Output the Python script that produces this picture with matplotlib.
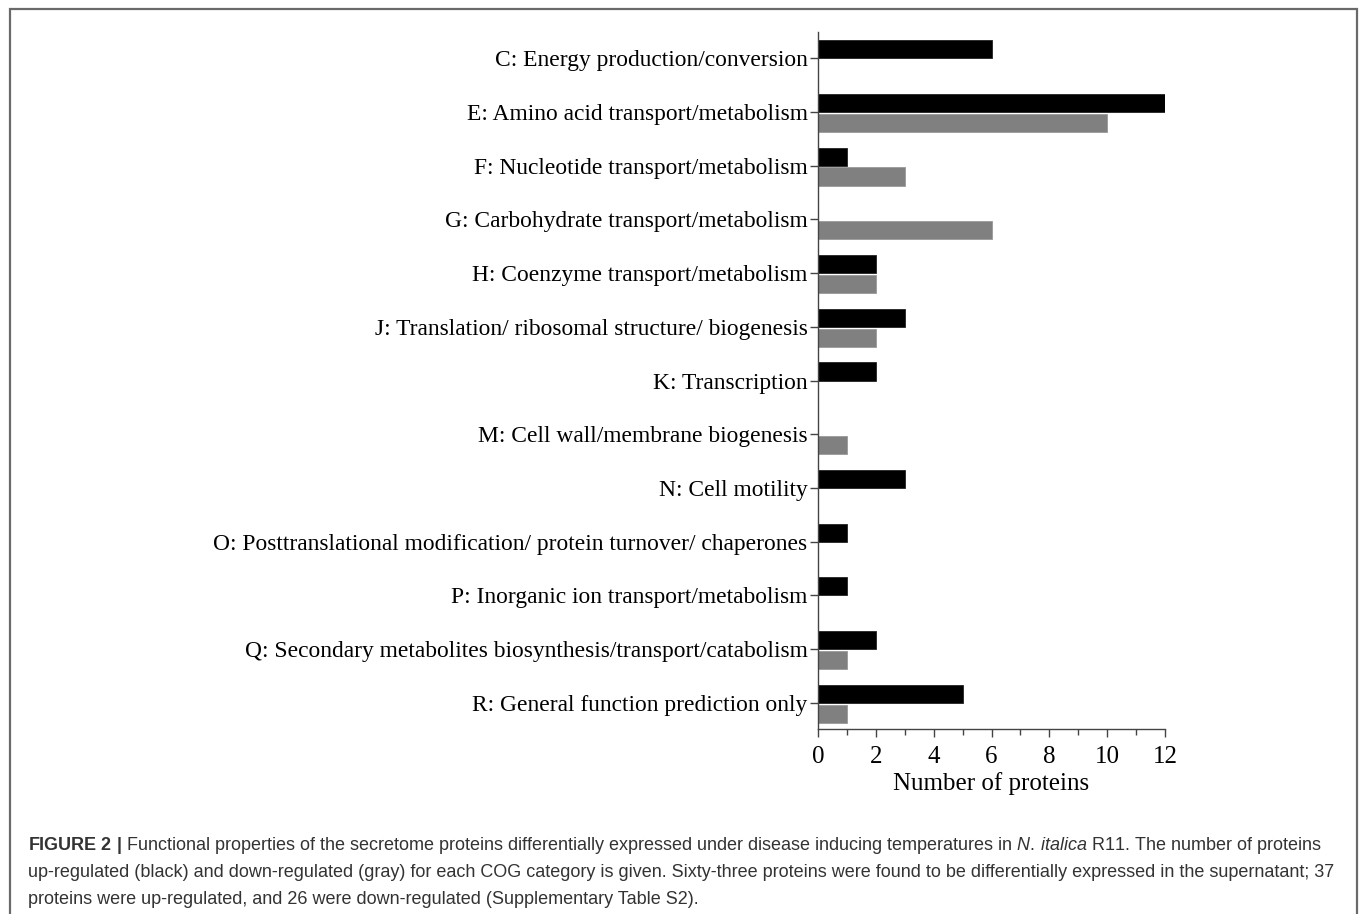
import matplotlib
matplotlib.use("Agg")
import matplotlib.pyplot as plt
from matplotlib.patches import Rectangle
import numpy as np

categories = [
    "C: Energy production/conversion",
    "E: Amino acid transport/metabolism",
    "F: Nucleotide transport/metabolism",
    "G: Carbohydrate transport/metabolism",
    "H: Coenzyme transport/metabolism",
    "J: Translation/ ribosomal structure/ biogenesis",
    "K: Transcription",
    "M: Cell wall/membrane biogenesis",
    "N: Cell motility",
    "O: Posttranslational modification/ protein turnover/ chaperones",
    "P: Inorganic ion transport/metabolism",
    "Q: Secondary metabolites biosynthesis/transport/catabolism",
    "R: General function prediction only",
]
up_regulated = [6, 12, 1, 0, 2, 3, 2, 0, 3, 1, 1, 2, 5]
down_regulated = [0, 10, 3, 6, 2, 2, 0, 1, 0, 0, 0, 1, 1]
x_ticks = [0, 2, 4, 6, 8, 10, 12]
x_label = "Number of proteins"

plt.rcParams['font.family'] = ['Liberation Serif', 'DejaVu Serif']
plt.rcParams['mathtext.fontset'] = 'custom'
plt.rcParams['mathtext.rm'] = 'Liberation Sans'
plt.rcParams['mathtext.bf'] = 'Liberation Sans:bold'
plt.rcParams['mathtext.it'] = 'Liberation Sans:italic'

W, H = 1359, 914
fig = plt.figure(figsize=(W / 100, H / 100), dpi=100)
ax = fig.add_axes([818 / W, 1 - 729 / H, (1165 - 818) / W, (729 - 32) / H])

y = np.arange(len(categories))
bh = 0.335
ax.barh(y - bh / 2, up_regulated, height=bh, color='black', edgecolor='#222222', linewidth=0.6)
ax.barh(y + 0.037 + bh / 2, down_regulated, height=bh, color='#808080', edgecolor='#999999', linewidth=0.6)

ax.set_ylim(len(categories) - 1 + 0.484, -0.484)
ax.set_xlim(0, 12)
ax.set_yticks(y)
ax.set_yticklabels(categories, fontsize=16.9)
ax.set_xticks(x_ticks)
ax.set_xticklabels([str(t) for t in x_ticks], fontsize=18)
ax.set_xticks(np.arange(1, 12, 2), minor=True)
ax.set_xlabel(x_label, fontsize=18, labelpad=3)

for s in ['top', 'right']:
    ax.spines[s].set_visible(False)
for s in ['left', 'bottom']:
    ax.spines[s].set_color('#444444')
    ax.spines[s].set_linewidth(1.0)
ax.tick_params(axis='y', length=6, width=1, color='#444444', pad=1.5)
ax.tick_params(axis='x', which='major', length=6, width=1, color='#444444', pad=6)
ax.tick_params(axis='x', which='minor', length=4, width=1, color='#444444')

# figure frame
frame = Rectangle((10 / W, -0.05), (1357 - 10) / W, 1.05 - 9 / H,
                  transform=fig.transFigure, fill=False, edgecolor='#6a6a6a',
                  linewidth=1.6, clip_on=False)
fig.patches.append(frame)

cap_color = '#333333'
cap1 = (r"$\mathbf{FIGURE\ 2\ |}$ Functional properties of the secretome proteins differentially expressed under "
        r"disease inducing temperatures in $\mathit{N.\,italica}$ R11. The number of proteins")
cap2 = ("up-regulated (black) and down-regulated (gray) for each COG category is given. Sixty-three proteins "
        "were found to be differentially expressed in the supernatant; 37")
cap3 = "proteins were up-regulated, and 26 were down-regulated (Supplementary Table S2)."
for i, txt in enumerate([cap1, cap2, cap3]):
    fig.text(28 / W, 1 - (846 + 26.5 * i) / H, txt, fontsize=13.0, family='Liberation Sans',
             color=cap_color, va='center', ha='left')

fig.savefig("out.png", dpi=100)
